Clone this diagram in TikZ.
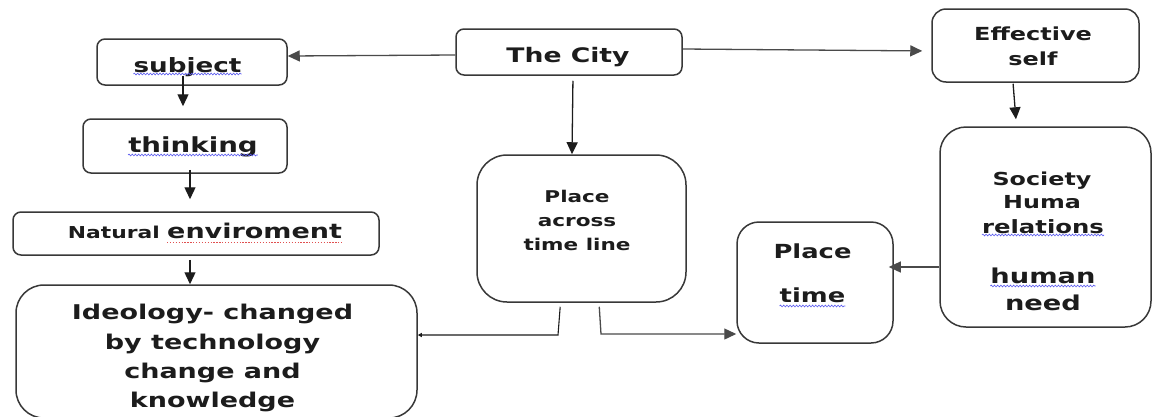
\documentclass[tikz,border=0pt]{standalone}
\usepackage{fontspec}
\newfontfamily\boxfont{DejaVu Sans}[FakeStretch=1.33]
\usetikzlibrary{arrows.meta,decorations.pathmorphing}
\definecolor{ink}{HTML}{1C1C1C}
\definecolor{edge}{HTML}{383838}
\definecolor{wire}{HTML}{4A4A4A}
\definecolor{spellblue}{HTML}{5A5AF0}
\definecolor{spellred}{HTML}{E05050}
\tikzset{
  box/.style={draw=edge, line width=1.5pt, inner sep=0pt, fill=white},
  lbl/.style={inner sep=0pt, anchor=base, text=ink, font=\boxfont\bfseries\fontsize{#1}{#1}\selectfont},
  lbl/.default=20,
  arr/.style={draw=ink, line width=1.3pt, -{Triangle[length=12pt,width=11pt]}},
  grayarr/.style={arr, draw=wire},
  smallarr/.style={draw=ink, line width=1.1pt, -{Triangle[length=4pt,width=4pt]}},
  squig/.style={draw=spellblue, line width=0.6pt, decorate,
    decoration={snake, amplitude=0.9pt, segment length=3.2pt}},
  squigred/.style={draw=spellred, line width=0.9pt, dash pattern=on 1.3pt off 1.6pt},
}
\begin{document}
\begin{tikzpicture}[x=1pt, y=-1pt]
\useasboundingbox (0,0) rectangle (1153,416);
\begin{scope}
\clip (0,0) rectangle (1153,416);

% ---- boxes ----
\node[box, rounded corners=8pt,  minimum width=190pt, minimum height=46pt]  (subj)  at (192,62) {};
\node[box, rounded corners=8pt,  minimum width=204pt, minimum height=54pt]  (think) at (185,146) {};
\node[box, rounded corners=8pt,  minimum width=366pt, minimum height=43pt]  (nat)   at (196,233.5) {};
\node[box, rounded corners=28pt, minimum width=401pt, minimum height=133pt] (ideo)  at (216.5,351.5) {};
\node[box, rounded corners=8pt,  minimum width=226pt, minimum height=46pt]  (city)  at (569,52) {};
\node[box, rounded corners=30pt, minimum width=209pt, minimum height=147pt] (pat)   at (581.5,228.5) {};
\node[box, rounded corners=14pt, minimum width=207pt, minimum height=73pt]  (eff)   at (1035.5,45.5) {};
\node[box, rounded corners=26pt, minimum width=211pt, minimum height=200pt] (soc)   at (1045.5,227) {};
\node[box, rounded corners=22pt, minimum width=156pt, minimum height=121pt] (pt)    at (815,282.5) {};

% ---- texts ----
\node[lbl=19.7] (tsubj)  at (187.5,72) {subject};
\node[lbl=20.8] (tthink) at (193,152) {thinking};
\node[lbl=16.4, anchor=base east] (tnatA) at (160,238) {Natural};
\node[lbl=20.3, anchor=base west] (tnatB) at (167,238) {enviroment};
\node[lbl=20.3] (tideoA) at (212.5,319) {Ideology- changed};
\node[lbl=20.3] (tideoB) at (212.5,349) {by technology};
\node[lbl=20.3] (tideoC) at (212.5,378) {change and};
\node[lbl=20.3] (tideoD) at (212.5,407) {knowledge};
\node[lbl=20] (tcity) at (568,62) {The City};
\node[lbl=16.2] (tpatA) at (577,202) {Place};
\node[lbl=16.2] (tpatB) at (577,226) {across};
\node[lbl=16.2] (tpatC) at (577,250) {time line};
\node[lbl=18] (teffA) at (1033,40) {Effective};
\node[lbl=18] (teffB) at (1033,65) {self};
\node[lbl=17.9] (tsocA) at (1042,185) {Society};
\node[lbl=17.9] (tsocB) at (1042,208) {Huma};
\node[lbl=18.3] (tsocC) at (1043,233) {relations};
\node[lbl=20.5] (tsocD) at (1043,283) {human};
\node[lbl=20.5] (tsocE) at (1043,310) {need};
\node[lbl=19.4] (tptA) at (812.5,258) {Place};
\node[lbl=19.4] (tptB) at (812.5,302) {time};

% ---- spelling marks under words ----
\draw[squig] ([yshift=-2pt]tsubj.base west) -- ([yshift=-2pt]tsubj.base east);
\draw[squig] ([yshift=-3pt]tthink.base west) -- ([yshift=-3pt]tthink.base east);
\draw[squigred] ([yshift=-4pt]tnatB.base west) -- ([yshift=-4pt]tnatB.base east);
\draw[squig] ([yshift=-2pt]tsocC.base west) -- ([yshift=-2pt]tsocC.base east);
\draw[squig] ([yshift=-3pt]tsocD.base west) -- ([yshift=-3pt]tsocD.base east);
\draw[squig] ([yshift=-4pt]tptB.base west) -- ([yshift=-4pt]tptB.base east);

% ---- connectors ----
\draw[grayarr] ([yshift=-3pt]city.west) -- ([yshift=6pt]subj.east);
\draw[grayarr, shorten >=9pt] ([yshift=3pt]city.east) -- ([yshift=-5.5pt]eff.west);
\draw[arr, shorten <=5pt] ([xshift=4pt]city.south) -- ([xshift=-9.5pt]pat.north);
\draw[arr, shorten <=-10pt, shorten >=12pt] ([xshift=-9pt]subj.south) -- ([xshift=-2pt]think.north);
\draw[arr, shorten <=-4pt, shorten >=12pt] ([xshift=5pt]think.south) -- ([xshift=5pt]think.south |- nat.north);
\draw[arr, shorten <=4pt] ([xshift=-6pt]nat.south) -- ([xshift=-26.5pt]ideo.north);
\draw[arr, shorten <=1pt, shorten >=7pt] ([xshift=-22.5pt]eff.south) -- ([xshift=-29pt]soc.north);
\draw[grayarr, shorten >=-5pt] ([yshift=-40pt]soc.west) -- ([yshift=15.5pt]pt.east);

\coordinate (bendL) at (558,335);
\coordinate (bendR) at (601,334);
\draw[smallarr, shorten <=4pt] ([xshift=-21pt]pat.south) -- (bendL) -- (bendL -| ideo.east);
\draw[grayarr, shorten <=4pt] ([xshift=17.5pt]pat.south) -- (bendR) -- (bendR -| pt.west);
\end{scope}
\end{tikzpicture}
\end{document}
